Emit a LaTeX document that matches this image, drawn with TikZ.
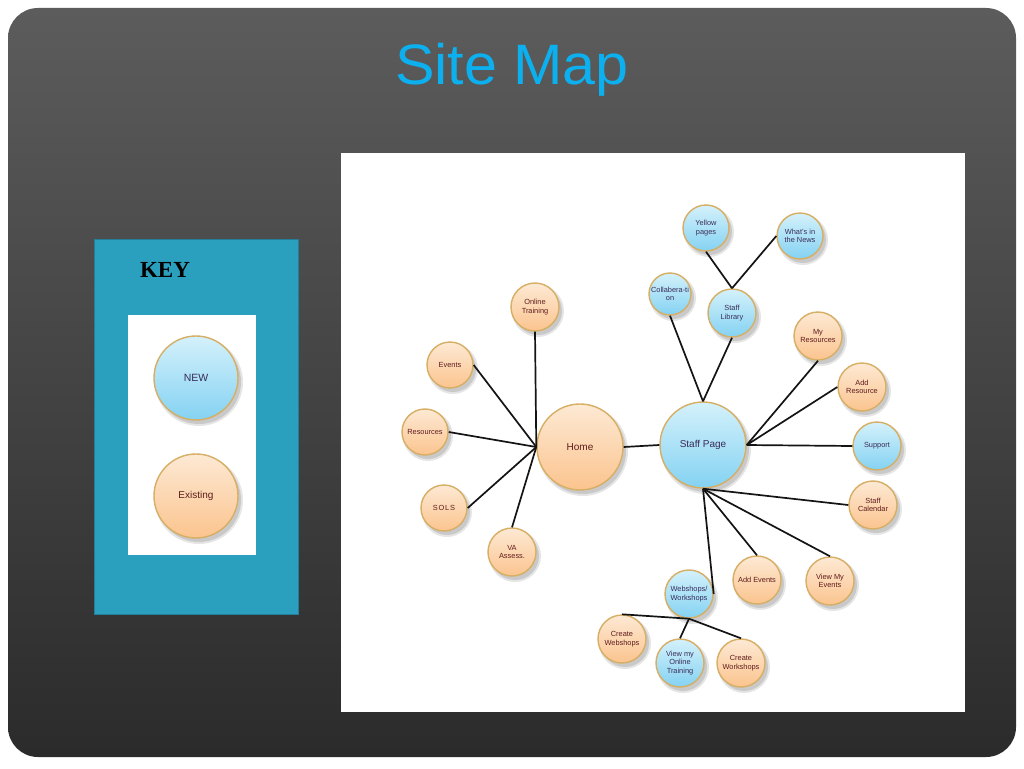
\documentclass[tikz,border=0pt]{standalone}
\usepackage{fontspec}
\setmainfont{Liberation Sans}
\newfontfamily\keyfont{Liberation Serif}
\definecolor{bgtop}{HTML}{5C5C5C}
\definecolor{bgbot}{HTML}{2B2B2B}
\definecolor{titlec}{HTML}{0CB0EE}
\definecolor{keyc}{HTML}{2BA0BE}
\definecolor{keyedge}{HTML}{237F99}
\definecolor{btop}{HTML}{D4F1FB}
\definecolor{bbot}{HTML}{84D2F2}
\definecolor{otop}{HTML}{FDE9D4}
\definecolor{obot}{HTML}{FBC48E}
\definecolor{bubedge}{HTML}{D6AE64}
\definecolor{otext}{HTML}{5E1B1B}
\definecolor{btext}{HTML}{3A2C58}
\tikzset{
  bubble/.style={circle, draw=bubedge, line width=1.4pt, inner sep=0pt, align=center,
     font=\fontsize{7.4}{8.6}\selectfont},
  newnode/.style={top color=btop, bottom color=bbot, text=btext},
  oldnode/.style={top color=otop, bottom color=obot, text=otext},
  bignode/.style={font=\fontsize{10}{12}\selectfont},
  link/.style={line width=1.7pt, black!92},
}
\newcommand\bub[6]{%
  \fill[black, opacity=0.10] (#2+3,#3+4) circle[radius=#4pt+2pt];
  \fill[black, opacity=0.12] (#2+3,#3+4) circle[radius=#4pt];
  \node[bubble,#5,minimum size=#4*2pt] (#1) at (#2,#3) {#6};
}
\begin{document}
\begin{tikzpicture}[x=1pt,y=-1pt]
\useasboundingbox (0,0) rectangle (1024,768);
\fill[white] (0,0) rectangle (1024,768);
% slide background
\shade[top color=bgtop, bottom color=bgbot, rounded corners=30pt] (8,8) rectangle (1016,757);
% title
\node[font=\fontsize{57}{60}\selectfont, text=titlec, anchor=base, xscale=1.04] (title) at (512,84) {Site Map};
% key
\filldraw[fill=keyc, draw=keyedge, line width=0.8pt] (94,239) rectangle (298,614);
\node[font=\keyfont\bfseries\fontsize{23}{26}\selectfont, anchor=base] (keytitle) at (165,277) {KEY};
\fill[white] (128,315) rectangle (256,555);
\bub{keynew}{196}{378}{42}{newnode,font=\fontsize{10.5}{12}\selectfont}{NEW}
\bub{keyold}{196}{496}{42}{oldnode,font=\fontsize{10}{12}\selectfont}{Existing}
% diagram panel
\fill[white] (341,153) rectangle (965,712);
% home cluster
\bub{home}{580}{447}{43}{oldnode,bignode}{Home}
\bub{online}{535}{307}{24}{oldnode}{Online\\Training}
\bub{events}{450}{365}{23}{oldnode}{Events}
\bub{res}{425}{432}{23}{oldnode}{Resources}
\bub{sols}{444}{508}{23}{oldnode}{S\kern0.8pt O\kern0.8pt L\kern0.8pt S}
\bub{va}{512}{552}{24}{oldnode}{VA\\Assess.}
% staff cluster
\bub{staff}{703}{445}{43}{newnode,bignode}{Staff Page}
\bub{yellow}{706}{228}{23}{newnode}{Yellow\\pages}
\bub{news}{800}{236}{23}{newnode}{What's in\\the News}
\bub{collab}{670}{294}{21}{newnode}{Collabera-ti\\on}
\bub{library}{732}{313}{24}{newnode}{Staff\\Library}
\bub{myres}{818}{336}{24}{oldnode}{My\\Resources}
\bub{addres}{862}{387}{24}{oldnode}{Add\\Resource}
\bub{support}{877}{446}{24}{newnode}{Support}
\bub{calendar}{873}{505}{24}{oldnode}{Staff\\Calendar}
\bub{viewev}{830}{581}{24}{oldnode}{View My\\Events}
\bub{addev}{757}{580}{24}{oldnode}{Add Events}
\bub{webshops}{689}{594}{24}{newnode}{Webshops/\\Workshops}
\bub{cweb}{622}{639}{24}{oldnode}{Create\\Webshops}
\bub{viewmy}{680}{663}{24}{newnode}{View my\\Online\\Training}
\bub{cwork}{741}{663}{24}{oldnode}{Create\\Workshops}
% connectors
\draw[link] (home.west) -- (online.south);
\draw[link] (home.west) -- (events.east);
\draw[link] (home.west) -- (res.east);
\draw[link] (home.west) -- (sols.east);
\draw[link] (home.west) -- (va.north);
\draw[link] (home.east) -- (staff.west);
\draw[link] (staff.north) -- (collab.south);
\draw[link] (staff.north) -- (library.south);
\draw[link] (library.north) -- (yellow.south);
\draw[link] (library.north) -- (news.west);
\draw[link] (staff.east) -- (myres.south);
\draw[link] (staff.east) -- (addres.west);
\draw[link] (staff.east) -- (support.west);
\draw[link] (staff.south) -- (calendar.west);
\draw[link] (staff.south) -- (viewev.north);
\draw[link] (staff.south) -- (addev.north);
\draw[link] (staff.south) -- (webshops.east);
\draw[link] (webshops.south) -- (cweb.north);
\draw[link] (webshops.south) -- (viewmy.north);
\draw[link] (webshops.south) -- (cwork.north);
\end{tikzpicture}
\end{document}
